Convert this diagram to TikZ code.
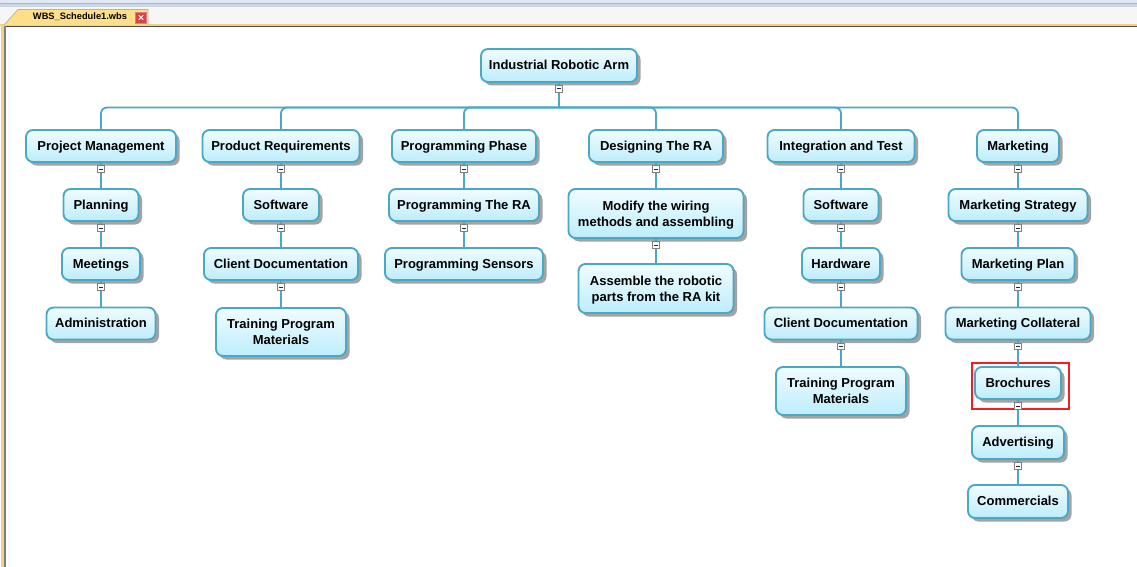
\documentclass[tikz,border=0pt]{standalone}
\usepackage{fontspec}
\setmainfont{Liberation Sans}
\usetikzlibrary{shadows,calc}
\definecolor{edgec}{HTML}{4AA8C6}
\definecolor{filltop}{HTML}{F0FCFF}
\definecolor{fillbot}{HTML}{BDEDFB}
\definecolor{topband}{HTML}{E1E8F4}
\definecolor{topline}{HTML}{A9B7C8}
\definecolor{topbandb}{HTML}{CCD7E4}
\definecolor{stripbg}{HTML}{F6F6F6}
\definecolor{goldc}{HTML}{F2D27E}
\definecolor{tabfill}{HTML}{FDDF8A}
\definecolor{tabedge}{HTML}{BDB29A}
\definecolor{closec}{HTML}{D2454A}
\definecolor{selred}{HTML}{F02020}
\begin{document}
\begin{tikzpicture}[x=1pt,y=-1pt,
  box/.style={draw=edgec, line width=1.9pt, rounded corners=7pt,
    top color=filltop, bottom color=fillbot, minimum height=32pt,
    inner sep=0pt, align=center, text=black,
    font=\fontsize{13}{16}\selectfont\bfseries,
    text height=9.5pt, text depth=1.5pt,
    drop shadow={shadow xshift=3.5pt, shadow yshift=-3.5pt, fill=black!36, opacity=1}},
  twoline/.style={text height=26.5pt, text depth=1.5pt},
  conn/.style={draw=edgec, line width=1.8pt},
  mk/.style={draw=black!50, fill=white, line width=0.7pt, minimum size=6.5pt,
    inner sep=0pt,
    path picture={\draw[black!85, line width=0.9pt]
      ([xshift=-2pt]path picture bounding box.center) --
      ([xshift=2pt]path picture bounding box.center);}}
]
\useasboundingbox (0,0) rectangle (1137,567);
% ---------- window frame ----------
\fill[white] (0,0) rectangle (1137,567);
\fill[topband] (0,0) rectangle (1137,3.5);
\fill[topline] (0,3.5) rectangle (1137,4.5);
\fill[topbandb] (0,4.5) rectangle (1137,7.5);
\fill[stripbg] (0,7.5) rectangle (1137,24.5);
\fill[goldc] (0,24) rectangle (1137,25.8);
\fill[black!70] (4,25.8) rectangle (1137,27.3);
\fill[goldc] (1.3,24) rectangle (4,567);
\fill[black!50] (4,25.8) rectangle (5.8,567);
\filldraw[fill=tabfill, draw=tabedge, line width=0.7pt]
  (4,25) -- (18,9.5) -- (148,9.5) -- (148,25);
\node[font=\fontsize{9.3}{11}\selectfont\bfseries, inner sep=0pt] (tabtxt) at (80,17) {WBS\_Schedule1.wbs};
\node[fill=closec, draw=closec!70!white, line width=0.6pt, minimum size=11pt, inner sep=0pt,
  path picture={\draw[white, line width=1pt]
    ([shift={(-2.2pt,-2.2pt)}]path picture bounding box.center) -- ([shift={(2.2pt,2.2pt)}]path picture bounding box.center)
    ([shift={(-2.2pt,2.2pt)}]path picture bounding box.center) -- ([shift={(2.2pt,-2.2pt)}]path picture bounding box.center);}]
  (closebtn) at (141,17.5) {};
% ---------- nodes ----------
\node[box, minimum width=156, minimum height=33] (root) at (559,65.5) {Industrial Robotic Arm};
% level 1
\node[box, minimum width=150] (pm) at (101,146) {Project Management};
\node[box, minimum width=157] (pr) at (281,146) {Product Requirements};
\node[box, minimum width=144] (pp) at (464,146) {Programming Phase};
\node[box, minimum width=134] (dr) at (656,146) {Designing The RA};
\node[box, minimum width=147] (it) at (841,146) {Integration and Test};
\node[box, minimum width=82] (mkt) at (1018,146) {Marketing};
% level 2
\node[box, minimum width=75] (pl) at (101,205) {Planning};
\node[box, minimum width=76] (sw1) at (281,205) {Software};
\node[box, minimum width=150] (pra) at (464,205) {Programming The RA};
\node[box, twoline, minimum width=175, minimum height=49] (mod) at (656,213.5) {Modify the wiring\\methods and assembling};
\node[box, minimum width=75] (sw2) at (841,205) {Software};
\node[box, minimum width=139] (ms) at (1018,205) {Marketing Strategy};
% level 3
\node[box, minimum width=78] (mt) at (101,264) {Meetings};
\node[box, minimum width=154] (cd1) at (281,264) {Client Documentation};
\node[box, minimum width=158] (ps) at (464,264) {Programming Sensors};
\node[box, twoline, minimum width=155, minimum height=49] (asm) at (656,288.5) {Assemble the robotic\\parts from the RA kit};
\node[box, minimum width=78] (hw) at (841,264) {Hardware};
\node[box, minimum width=113] (mp) at (1018,264) {Marketing Plan};
% level 4
\node[box, minimum width=109] (adm) at (101,323.5) {Administration};
\node[box, twoline, minimum width=130, minimum height=48] (tpm1) at (281,332) {Training Program\\Materials};
\node[box, minimum width=153] (cd2) at (841,323.5) {Client Documentation};
\node[box, minimum width=145] (mc) at (1018,323.5) {Marketing Collateral};
% level 5-7
\node[box, twoline, minimum width=130, minimum height=48] (tpm2) at (841,391) {Training Program\\Materials};
\node[box, minimum width=86] (br) at (1018,383) {Brochures};
\node[box, minimum width=92, minimum height=33] (adv) at (1018,442.5) {Advertising};
\node[box, minimum width=100, minimum height=33] (com) at (1018,501.5) {Commercials};
% selection rectangle
\node[draw=selred, line width=1.1pt, minimum width=97, minimum height=46, inner sep=0pt] (sel) at (1020.5,386) {};
% ---------- connectors ----------
\coordinate (bus) at (559,107.5);
\draw[conn] (root.south) -- (bus);
\foreach \c in {pm,pr,pp,dr,it,mkt}
  \draw[conn, rounded corners=6pt] (bus) -| (\c.north);
\foreach \a/\b in {pm/pl, pl/mt, mt/adm, pr/sw1, sw1/cd1, cd1/tpm1, pp/pra, pra/ps,
  dr/mod, mod/asm, it/sw2, sw2/hw, hw/cd2, cd2/tpm2, mkt/ms, ms/mp, mp/mc, mc/br, br/adv, adv/com}
  \draw[conn] (\a.south) -- (\a.south |- \b.north);
% ---------- collapse markers ----------
\foreach \p in {root,pm,pl,mt,pr,sw1,cd1,pp,pra,dr,mod,it,sw2,hw,cd2,mkt,ms,mp,mc,br,adv}
  \node[mk] (m-\p) at ($(\p.south)+(0,6)$) {};
\end{tikzpicture}
\end{document}
